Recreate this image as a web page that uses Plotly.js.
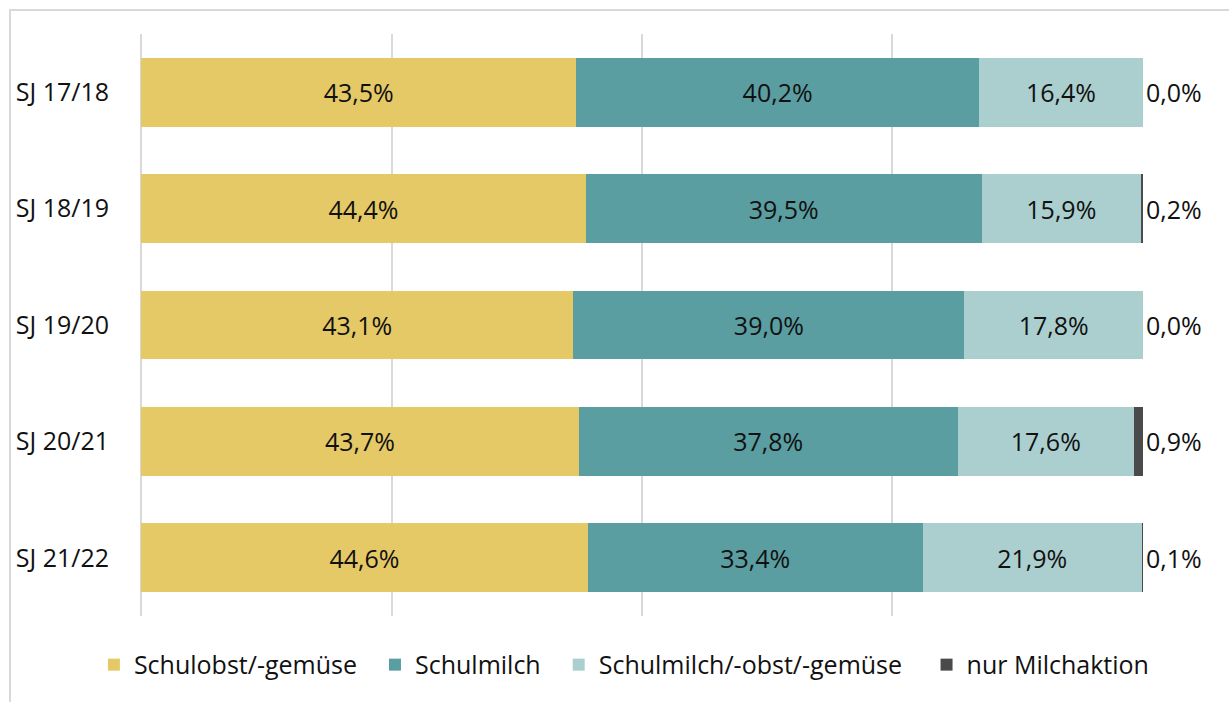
<!DOCTYPE html>
<html>
<head>
<meta charset="utf-8">
<script src="https://cdn.plot.ly/plotly-3.0.1.min.js"></script>
<style>
html,body{margin:0;padding:0;background:#fff;overflow:hidden;}
#frame{position:absolute;left:9px;top:9px;width:1400px;height:900px;border-top:2px solid #d9d9d9;border-left:2px solid #d9d9d9;}
#chart{position:absolute;left:0;top:0;width:1229px;height:702px;}
</style>
</head>
<body>
<div id="frame"></div>
<div id="chart"></div>
<script>
const categories = ["SJ 17/18", "SJ 18/19", "SJ 19/20", "SJ 20/21", "SJ 21/22"];
const seriesNames = ["Schulobst/-gemüse", "Schulmilch", "Schulmilch/-obst/-gemüse", "nur Milchaktion"];
const schulobst = [43.5, 44.4, 43.1, 43.7, 44.6];
const schulmilch = [40.2, 39.5, 39.0, 37.8, 33.4];
const kombi = [16.4, 15.9, 17.8, 17.6, 21.9];
const milchaktion = [0.0, 0.2, 0.0, 0.9, 0.1];
const colors = ["#E6C967", "#5A9EA1", "#ABCFCF", "#4A4A4A"];

const seriesValues = [schulobst, schulmilch, kombi, milchaktion];
const fmt = v => v.toFixed(1).replace('.', ',') + '%';
const FONT = "'Open Sans', 'Noto Sans', sans-serif";
const FS = 25;
const legendPad = [2, 2, 3, 0];

const traces = seriesValues.map((vals, i) => ({
  type: 'bar',
  orientation: 'h',
  name: seriesNames[i] + '\u00a0'.repeat(legendPad[i]),
  y: categories,
  x: vals,
  text: vals.map(fmt),
  texttemplate: '%{text}',
  textposition: i === 3 ? 'outside' : 'inside',
  insidetextanchor: 'middle',
  constraintext: 'none',
  textangle: 0,
  cliponaxis: false,
  textfont: {family: FONT, size: FS, color: '#111'},
  marker: {color: colors[i], line: {width: 0}},
  hoverinfo: 'skip'
}));

const layout = {
  width: 1229, height: 702,
  margin: {l: 141, r: 86, t: 34, b: 86},
  paper_bgcolor: 'rgba(0,0,0,0)',
  plot_bgcolor: 'rgba(0,0,0,0)',
  barmode: 'stack',
  barnorm: 'fraction',
  bargap: 0.41,
  font: {family: FONT, size: FS, color: '#111'},
  xaxis: {
    range: [0, 1.00001], dtick: 0.25, tick0: 0,
    showgrid: true, gridcolor: '#d9d9d9', gridwidth: 2,
    zeroline: true, zerolinecolor: '#d9d9d9', zerolinewidth: 2,
    showticklabels: false, ticks: '', fixedrange: true
  },
  yaxis: {
    type: 'category',
    categoryorder: 'array', categoryarray: categories,
    autorange: 'reversed',
    ticks: '', showgrid: false, zeroline: false,
    ticklabelstandoff: 31,
    tickfont: {family: FONT, size: FS, color: '#111'}
  },
  showlegend: true,
  legend: {
    orientation: 'h',
    x: -0.047, xanchor: 'left', y: -0.084, yanchor: 'middle',
    font: {family: FONT, size: FS, color: '#111'},
    traceorder: 'normal', itemwidth: 30
  }
};

Plotly.newPlot('chart', traces, layout, {staticPlot: true, displayModeBar: false});
</script>
</body>
</html>
